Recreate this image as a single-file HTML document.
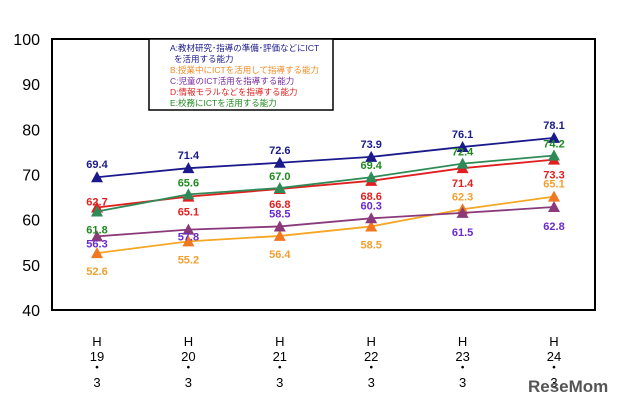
<!DOCTYPE html>
<html><head><meta charset="utf-8"><style>
body{margin:0;background:#fff;}
svg{display:block;font-family:"Liberation Sans","Noto Sans CJK JP",sans-serif;}
</style></head><body>
<svg id="chart" width="640" height="409" viewBox="0 0 640 409" xmlns="http://www.w3.org/2000/svg">
<rect x="0" y="0" width="640" height="409" fill="#fff"/>
<rect x="52" y="39" width="543" height="271" fill="none" stroke="#000" stroke-width="2"/>
<g id="yaxis"></g><g id="xaxis"></g><g id="series"></g>
<g>
<rect x="149" y="39" width="184" height="71" fill="#fff" stroke="#000" stroke-width="1.5"/>
<text x="170" y="51" font-size="8.5" fill="#1a1a8c">A:教材研究･指導の準備･評価などにICT</text>
<text x="174" y="62" font-size="8.5" fill="#1a1a8c">を活用する能力</text>
<text x="170" y="73" font-size="8.5" fill="#f08c28">B:授業中にICTを活用して指導する能力</text>
<text x="170" y="84" font-size="8.5" fill="#7a2ba0">C:児童のICT活用を指導する能力</text>
<text x="170" y="95" font-size="8.5" fill="#e02020">D:情報モラルなどを指導する能力</text>
<text x="170" y="106" font-size="8.5" fill="#1e8a1e">E:校務にICTを活用する能力</text>
</g>
<text x="528" y="392" font-size="17" font-weight="bold" fill="#555">ReseMom</text>
</svg>
<script>
const categories=["19","20","21","22","23","24"];
const yTicks=[40,50,60,70,80,90,100];
const seriesA=[69.4,71.4,72.6,73.9,76.1,78.1];
const seriesB=[52.6,55.2,56.4,58.5,62.3,65.1];
const seriesC=[56.3,57.8,58.5,60.3,61.5,62.8];
const seriesD=[62.7,65.1,66.8,68.6,71.4,73.3];
const seriesE=[61.8,65.6,67.0,69.4,72.4,74.2];
const NS="http://www.w3.org/2000/svg";
const y=v=>310-(v-40)*(271/60);
const x=i=>97+i*91.4;
function mk(t,a,p){const e=document.createElementNS(NS,t);for(const k in a)e.setAttribute(k,a[k]);p.appendChild(e);return e;}
const ya=document.getElementById('yaxis');
yTicks.forEach(v=>{const t=mk('text',{x:40,y:y(v)+6,'font-size':16,'text-anchor':'end',fill:'#000'},ya);t.textContent=v;

});
const xa=document.getElementById('xaxis');
categories.forEach((c,i)=>{[['H',346],[c,361],['・',372],['3',387]].forEach(([s,yy])=>{const t=mk('text',{x:x(i),y:yy,'font-size':13,'text-anchor':'middle',fill:'#000'},xa);t.textContent=s;

});});
const sg=document.getElementById('series');
const defs=[
 ['series-a',seriesA,'#1a1a8c','#1a1a8c','#1a1a8c',-13],
 ['series-b',seriesB,'#f5a623','#f07820','#f0a030',18],
 ['series-c',seriesC,'#8a3a7a','#8a3a7a','#6a2ad0',-6],
 ['series-d',seriesD,'#e02020','#e02020','#e02020',-6],
 ['series-e',seriesE,'#2e8b57','#2e8b57','#1e8a1e',-6]];
const offs={'series-c':[7,7,-13,-13,19,19],'series-d':[-6,15,15,15,15,15],'series-e':[18,-12,-12,-12,-12,-12],'series-b':[18,18,18,18,-13,-13],'series-a':[-13,-13,-13,-13,-13,-13]};
defs.forEach(([n,d,lc,mc,tc])=>{
 const g=mk('g',{},sg);
 
 
 const p=mk('polyline',{points:d.map((v,i)=>x(i)+','+y(v)).join(' '),fill:'none',stroke:lc,'stroke-width':1.8},g);
 
 
 d.forEach((v,i)=>{
  const m=mk('polygon',{points:`${x(i)-6},${y(v)+5} ${x(i)+6},${y(v)+5} ${x(i)},${y(v)-6}`,fill:mc},g);
  
  
  const t=mk('text',{x:x(i),y:y(v)+offs[n][i]+4,'font-size':11,'font-weight':'bold','text-anchor':'middle',fill:tc},g);
  t.textContent=v.toFixed(1);
  
  
 });
});
</script>
</body></html>
